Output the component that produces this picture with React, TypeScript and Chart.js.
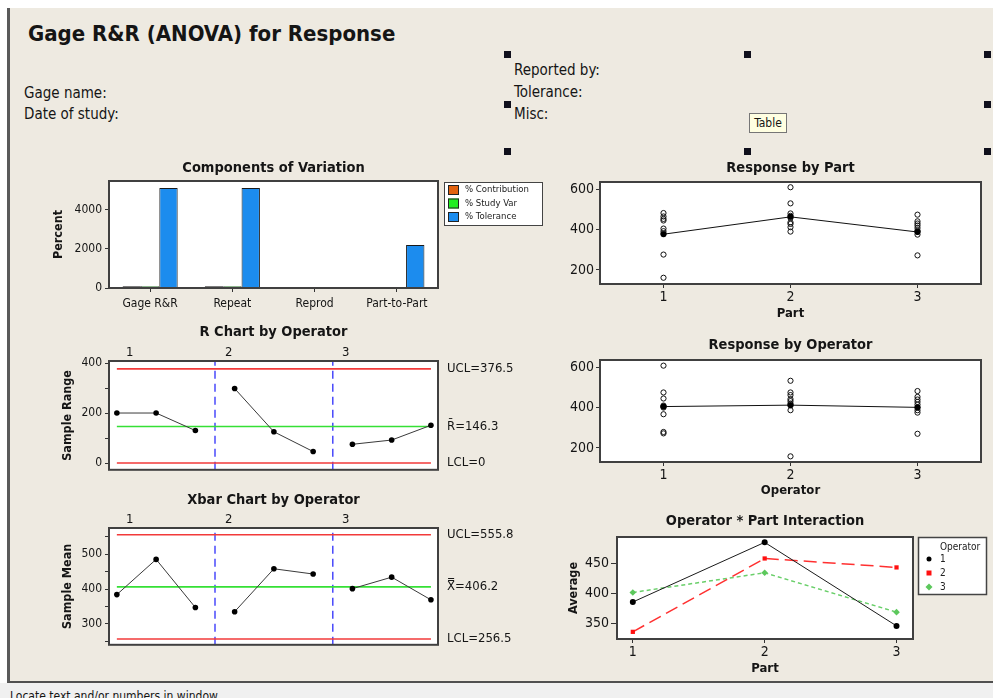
import React, { useEffect, useRef } from "react";
import { Chart, registerables } from "chart.js";

Chart.register(...registerables);

const FONT = "Tahoma, 'DejaVu Sans Condensed', 'Liberation Sans', sans-serif";
const INK = "#151515";
const BG = "#EEEAE1";
const FRAME = "#404040";
const RED = "#F23A3A";
const GREEN = "#35E035";
const BLUE = "rgba(40,40,250,0.85)";

// ---------- Components of Variation ----------
const covCategories = ["Gage R&R", "Repeat", "Reprod", "Part-to-Part"];
const covSeriesNames = ["% Contribution", "% Study Var", "% Tolerance"];
const covContribution = [84.4, 84.4, 0, 15.6];
const covStudyVar = [91.9, 91.9, 0, 39.5];
const covTolerance = [5090, 5090, 0, 2190];
const covColors = ["#E2620F", "#22EE22", "#1C8CEE"];
const covTicks = [0, 2000, 4000];

// ---------- R / Xbar charts by operator ----------
const sampleIndex = [1, 2, 3, 4, 5, 6, 7, 8, 9];
const sampleOperator = [1, 1, 1, 2, 2, 2, 3, 3, 3];
const operatorNames = ["1", "2", "3"];
const operatorBoundaries = [3.5, 6.5];
const operatorLabelX = [1.33, 3.85, 6.83];

const rangeValues = [200, 200, 130, 298, 125, 46, 75, 92, 151];
const rUCL = 376.5;
const rCenter = 146.3;
const rLCL = 0;
const rTicks = [0, 100, 200, 300, 400];
const rLabelTicks = [0, 200, 400];

const meanValues = [384, 485, 347, 335, 458, 443, 401, 434, 369];
const xUCL = 555.8;
const xCenter = 406.2;
const xLCL = 256.5;
const xbarTicks = [250, 300, 350, 400, 450, 500, 550];
const xbarLabelTicks = [300, 400, 500];

// ---------- Response by Part ----------
const partNames = ["1", "2", "3"];
const responsePart1 = [482, 465, 453, 445, 405, 392, 381, 276, 161];
const responsePart2 = [610, 530, 480, 468, 458, 436, 428, 412, 390];
const responsePart3 = [474, 441, 430, 420, 408, 395, 389, 375, 272];
const partMeans = [377, 463, 388];

// ---------- Response by Operator ----------
const responseOp1 = [608, 475, 445, 410, 405, 400, 367, 279, 272];
const responseOp2 = [533, 475, 462, 442, 432, 420, 412, 387, 158];
const responseOp3 = [482, 453, 440, 428, 415, 400, 387, 375, 270];
const operatorMeans = [405, 412, 401];

// ---------- Operator * Part interaction ----------
const interactionOp1 = [386, 486, 346];
const interactionOp2 = [336, 459, 444];
const interactionOp3 = [402, 435, 369];
const interactionTicks = [350, 400, 450];

type Rect = { x: number; y: number; w: number; h: number };
type Plot = { l: number; t: number; r: number; b: number };

function layoutPadding(c: Rect, p: Plot, yW: number, xH: number) {
  return {
    left: p.l - c.x - yW,
    top: p.t - c.y,
    right: c.x + c.w - p.r,
    bottom: c.y + c.h - p.b - xH,
  };
}

function font(size: number, bold = false) {
  return `${bold ? "bold " : ""}${size}px ${FONT}`;
}

function drawText(
  ctx: CanvasRenderingContext2D,
  s: string,
  x: number,
  y: number,
  f: string,
  align: CanvasTextAlign = "center",
  color = INK
) {
  ctx.save();
  ctx.font = f;
  ctx.fillStyle = color;
  ctx.textAlign = align;
  ctx.textBaseline = "middle";
  ctx.fillText(s, x, y);
  ctx.restore();
}

const framePlugin = {
  id: "frame",
  beforeDraw(chart: any) {
    const { ctx, chartArea: a } = chart;
    ctx.save();
    ctx.fillStyle = "#ffffff";
    ctx.fillRect(a.left, a.top, a.right - a.left, a.bottom - a.top);
    ctx.restore();
  },
  afterDraw(chart: any) {
    const { ctx, chartArea: a } = chart;
    ctx.save();
    ctx.strokeStyle = FRAME;
    ctx.lineWidth = 2;
    ctx.strokeRect(a.left, a.top, a.right - a.left, a.bottom - a.top);
    ctx.restore();
  },
};

const TITLE_SIZE = 14.5;

function titlePlugin(text: string, cy: number) {
  return {
    id: "panelTitle",
    afterDraw(chart: any) {
      const a = chart.chartArea;
      drawText(chart.ctx, text, (a.left + a.right) / 2, cy, font(TITLE_SIZE, true));
    },
  };
}

function yAxis(opts: {
  min: number;
  max: number;
  ticks: number[];
  labels: number[];
  width: number;
  size: number;
  tickLength: number;
  padding: number;
  title?: string;
  titleOffset?: number;
}) {
  return {
    type: "linear",
    min: opts.min,
    max: opts.max,
    afterBuildTicks: (s: any) => {
      s.ticks = opts.ticks.map((v) => ({ value: v }));
    },
    afterFit: (s: any) => {
      s.width = opts.width;
    },
    grid: {
      drawOnChartArea: false,
      drawTicks: true,
      tickLength: opts.tickLength,
      tickColor: "#333",
      tickWidth: 1,
    },
    border: { display: false },
    ticks: {
      font: { family: FONT, size: opts.size },
      color: INK,
      padding: opts.padding,
      callback: (v: any) => (opts.labels.includes(Number(v)) ? String(v) : ""),
    },
    title: opts.title
      ? {
          display: true,
          text: opts.title,
          color: INK,
          font: { family: FONT, size: 12.5, weight: "bold" },
          padding: { top: opts.titleOffset ?? 0, bottom: 0 },
        }
      : { display: false },
  };
}

function catAxisLinear(opts: {
  min: number;
  max: number;
  names: string[];
  height: number;
  title: string;
  size: number;
  padding: number;
}) {
  return {
    type: "linear",
    min: opts.min,
    max: opts.max,
    afterBuildTicks: (s: any) => {
      s.ticks = opts.names.map((_, i) => ({ value: i + 1 }));
    },
    afterFit: (s: any) => {
      s.height = opts.height;
    },
    grid: { drawOnChartArea: false, tickLength: 4, tickColor: "#333" },
    border: { display: false },
    ticks: {
      font: { family: FONT, size: opts.size },
      color: INK,
      padding: opts.padding,
      callback: (v: any) => opts.names[Number(v) - 1] ?? "",
    },
    title: {
      display: true,
      text: opts.title,
      color: INK,
      font: { family: FONT, size: 13, weight: "bold" },
      padding: { top: 0, bottom: 0 },
    },
  };
}

const baseOptions = {
  responsive: false,
  animation: false,
  events: [],
};

const noPlugins = {
  legend: { display: false },
  tooltip: { enabled: false },
  title: { display: false },
};

// ---------- panel configs ----------
function covConfig(c: Rect): any {
  const plot = { l: 109, t: 181, r: 438, b: 288 };
  const series = [covContribution, covStudyVar, covTolerance];
  const legend = {
    id: "covLegend",
    afterDraw(chart: any) {
      const { ctx, chartArea: a } = chart;
      const bx = a.right + 6;
      const by = a.top + 1;
      ctx.save();
      ctx.fillStyle = "#ffffff";
      ctx.fillRect(bx, by, 99, 44);
      ctx.strokeStyle = "#444";
      ctx.lineWidth = 1;
      ctx.strokeRect(bx + 0.5, by + 0.5, 98, 43);
      chart.data.datasets.forEach((ds: any, i: number) => {
        const cy = by + 8 + i * 13.5;
        ctx.fillStyle = ds.backgroundColor;
        ctx.fillRect(bx + 4, cy - 5, 11, 10);
        ctx.strokeStyle = "#222";
        ctx.strokeRect(bx + 4.5, cy - 4.5, 10, 9);
        drawText(ctx, ds.label, bx + 21, cy, font(9.5), "left", "#222");
      });
      ctx.restore();
    },
  };
  return {
    type: "bar",
    data: {
      labels: covCategories,
      datasets: covSeriesNames.map((name, i) => ({
        label: name,
        data: series[i],
        backgroundColor: covColors[i],
        borderColor: "#1a1a1a",
        borderWidth: 1,
        categoryPercentage: 0.67,
        barPercentage: 1,
      })),
    },
    options: {
      ...baseOptions,
      layout: { padding: layoutPadding(c, plot, 69, 32) },
      plugins: noPlugins,
      scales: {
        x: {
          type: "category",
          offset: true,
          afterFit: (s: any) => {
            s.height = 32;
          },
          grid: { offset: false, drawOnChartArea: false, tickLength: 4, tickColor: "#333" },
          border: { display: false },
          ticks: {
            font: { family: FONT, size: 12 },
            color: INK,
            padding: 5,
            maxRotation: 0,
            autoSkip: false,
          },
        },
        y: yAxis({
          min: 0,
          max: 5450,
          ticks: covTicks,
          labels: covTicks,
          width: 69,
          size: 12,
          tickLength: 4,
          padding: 3,
          title: "Percent",
          titleOffset: 11,
        }),
      },
    },
    plugins: [framePlugin, titlePlugin("Components of Variation", 13), legend],
  };
}

function controlConfig(
  c: Rect,
  plot: Plot,
  values: number[],
  ucl: number,
  center: number,
  lcl: number,
  centerLabel: string,
  yMin: number,
  yMax: number,
  ticks: number[],
  labels: number[],
  title: string,
  yTitle: string,
  titleY: number,
  groupY: number
): any {
  const first = sampleIndex[0];
  const last = sampleIndex[sampleIndex.length - 1];
  const opSeries = operatorNames.map((_, k) => ({
    data: sampleIndex
      .map((s, i) => ({ s, i }))
      .filter(({ i }) => sampleOperator[i] === k + 1)
      .map(({ s, i }) => ({ x: s, y: values[i] })),
    showLine: true,
    borderColor: "#3a3a3a",
    borderWidth: 1,
    pointRadius: 2.8,
    pointBackgroundColor: "#000",
    pointBorderColor: "#000",
    pointBorderWidth: 0,
  }));
  const hline = (v: number, color: string) => ({
    data: [
      { x: first, y: v },
      { x: last, y: v },
    ],
    showLine: true,
    borderColor: color,
    borderWidth: 1.6,
    pointRadius: 0,
  });
  const vlines = operatorBoundaries.map((b) => ({
    data: [
      { x: b, y: yMin },
      { x: b, y: yMax },
    ],
    showLine: true,
    borderColor: BLUE,
    borderWidth: 1.5,
    borderDash: [8, 5],
    pointRadius: 0,
  }));
  const limitLabels = [
    { text: `UCL=${ucl}`, v: ucl },
    { text: `${centerLabel}=${center}`, v: center },
    { text: `LCL=${lcl}`, v: lcl },
  ];
  const ann = {
    id: "controlText",
    afterDraw(chart: any) {
      const { ctx, chartArea: a, scales } = chart;
      limitLabels.forEach((l) =>
        drawText(ctx, l.text, a.right + 9, scales.y.getPixelForValue(l.v), font(13), "left")
      );
      operatorNames.forEach((n, i) =>
        drawText(ctx, n, scales.x.getPixelForValue(operatorLabelX[i]), groupY, font(13))
      );
      drawText(ctx, title, (a.left + a.right) / 2, titleY, font(TITLE_SIZE, true));
    },
  };
  return {
    type: "scatter",
    data: {
      datasets: [
        ...opSeries,
        hline(ucl, RED),
        hline(center, GREEN),
        hline(lcl, RED),
        ...vlines,
      ],
    },
    options: {
      ...baseOptions,
      layout: { padding: layoutPadding(c, plot, 69, 0) },
      plugins: noPlugins,
      scales: {
        x: { type: "linear", min: 0.8, max: 9.18, display: false },
        y: yAxis({
          min: yMin,
          max: yMax,
          ticks,
          labels,
          width: 69,
          size: 12,
          tickLength: 4,
          padding: 3,
          title: yTitle,
          titleOffset: 20,
        }),
      },
    },
    plugins: [framePlugin, ann],
  };
}

function responseConfig(
  c: Rect,
  plot: Plot,
  groups: number[][],
  means: number[],
  title: string,
  xTitle: string,
  titleY: number,
  xH: number
): any {
  const pts = groups.flatMap((g, i) => g.map((v) => ({ x: i + 1, y: v })));
  return {
    type: "scatter",
    data: {
      datasets: [
        {
          data: means.map((v, i) => ({ x: i + 1, y: v })),
          showLine: true,
          borderColor: "#111",
          borderWidth: 1,
          pointRadius: 3,
          pointBackgroundColor: "#000",
          pointBorderColor: "#000",
          pointBorderWidth: 0,
        },
        {
          data: pts,
          pointRadius: 2.6,
          pointBackgroundColor: "rgba(255,255,255,0)",
          pointBorderColor: "#111",
          pointBorderWidth: 1,
        },
      ],
    },
    options: {
      ...baseOptions,
      layout: { padding: layoutPadding(c, plot, 50, xH) },
      plugins: noPlugins,
      scales: {
        x: catAxisLinear({
          min: 0.5,
          max: 3.5,
          names: partNames,
          height: xH,
          title: xTitle,
          size: 14,
          padding: 1,
        }),
        y: yAxis({
          min: 130,
          max: 636,
          ticks: [200, 400, 600],
          labels: [200, 400, 600],
          width: 50,
          size: 14,
          tickLength: 4,
          padding: 2,
        }),
      },
    },
    plugins: [framePlugin, titlePlugin(title, titleY)],
  };
}

function drawMarker(ctx: CanvasRenderingContext2D, style: string, x: number, y: number, r: number, color: string) {
  ctx.save();
  ctx.fillStyle = color;
  ctx.beginPath();
  if (style === "rect") {
    ctx.rect(x - r, y - r, 2 * r, 2 * r);
  } else if (style === "rectRot") {
    ctx.moveTo(x, y - r * 1.25);
    ctx.lineTo(x + r * 1.25, y);
    ctx.lineTo(x, y + r * 1.25);
    ctx.lineTo(x - r * 1.25, y);
    ctx.closePath();
  } else {
    ctx.arc(x, y, r, 0, Math.PI * 2);
  }
  ctx.fill();
  ctx.restore();
}

function interactionConfig(c: Rect): any {
  const plot = { l: 617, t: 537, r: 913, b: 639 };
  const series = [interactionOp1, interactionOp2, interactionOp3];
  const styles = [
    { line: "#1a1a1a", marker: "#000", point: "circle", dash: [] as number[], r: 3 },
    { line: "#FF3030", marker: "#FF1010", point: "rect", dash: [13, 6], r: 3 },
    { line: "#6ACF6A", marker: "#5CC85C", point: "rectRot", dash: [4, 3], r: 3.3 },
  ];
  const legend = {
    id: "opLegend",
    afterDraw(chart: any) {
      const { ctx, chartArea: a } = chart;
      const bx = a.right + 5;
      const by = a.top;
      ctx.save();
      ctx.fillStyle = "#ffffff";
      ctx.fillRect(bx, by, 69, 58);
      ctx.strokeStyle = "#444";
      ctx.lineWidth = 1.5;
      ctx.strokeRect(bx + 0.5, by + 0.5, 68, 57);
      drawText(ctx, "Operator", bx + 22, by + 10, font(10), "left", "#222");
      operatorNames.forEach((n, i) => {
        const cy = by + 22 + i * 14;
        drawMarker(ctx, styles[i].point, bx + 11, cy, styles[i].r - 0.5, styles[i].marker);
        drawText(ctx, n, bx + 22, cy, font(10), "left", "#222");
      });
      ctx.restore();
    },
  };
  return {
    type: "scatter",
    data: {
      datasets: series.map((s, i) => ({
        label: operatorNames[i],
        data: s.map((v, j) => ({ x: j + 1, y: v })),
        showLine: true,
        borderColor: styles[i].line,
        borderWidth: i === 0 ? 1 : 1.5,
        borderDash: styles[i].dash,
        pointStyle: styles[i].point,
        pointRadius: styles[i].r,
        pointBackgroundColor: styles[i].marker,
        pointBorderColor: styles[i].marker,
        pointBorderWidth: 0,
      })),
    },
    options: {
      ...baseOptions,
      layout: { padding: layoutPadding(c, plot, 67, 37) },
      plugins: noPlugins,
      scales: {
        x: catAxisLinear({
          min: 0.88,
          max: 3.125,
          names: partNames,
          height: 37,
          title: "Part",
          size: 14,
          padding: 1,
        }),
        y: yAxis({
          min: 324,
          max: 495,
          ticks: interactionTicks,
          labels: interactionTicks,
          width: 67,
          size: 14,
          tickLength: 6,
          padding: 2,
          title: "Average",
          titleOffset: 16,
        }),
      },
    },
    plugins: [framePlugin, titlePlugin("Operator * Part Interaction", 16), legend],
  };
}

function Panel({ rect, make }: { rect: Rect; make: (r: Rect) => any }) {
  const ref = useRef<HTMLCanvasElement>(null);
  useEffect(() => {
    const chart = new Chart(ref.current as HTMLCanvasElement, make(rect));
    return () => chart.destroy();
  }, []);
  return (
    <canvas
      ref={ref}
      width={rect.w}
      height={rect.h}
      style={{ position: "absolute", left: rect.x, top: rect.y, width: rect.w, height: rect.h }}
    />
  );
}

const covRect = { x: 40, y: 155, w: 510, h: 165 };
const rRect = { x: 40, y: 320, w: 480, h: 160 };
const xbarRect = { x: 40, y: 485, w: 480, h: 170 };
const partRect = { x: 550, y: 155, w: 443, h: 170 };
const opRect = { x: 550, y: 330, w: 443, h: 170 };
const interRect = { x: 550, y: 505, w: 443, h: 180 };

const handles = [
  [504, 51],
  [744, 51],
  [984, 51],
  [504, 101],
  [984, 101],
  [504, 148],
  [744, 148],
  [984, 148],
];

export default function App() {
  const txt = (s: string, left: number, top: number, size: number, bold = false) => (
    <div
      style={{
        position: "absolute",
        left,
        top,
        fontFamily: FONT,
        fontSize: size,
        fontWeight: bold ? "bold" : "normal",
        lineHeight: `${Math.round(size * 1.2)}px`,
        color: INK,
        whiteSpace: "nowrap",
      }}
    >
      {s}
    </div>
  );
  return (
    <div style={{ position: "absolute", left: 0, top: 0, width: 993, height: 698, overflow: "hidden", background: "#fff" }}>
      <div
        style={{
          position: "absolute",
          left: 7,
          top: 8,
          width: 986,
          height: 675,
          boxSizing: "border-box",
          background: BG,
          borderLeft: "3px solid #5a5a5a",
          borderBottom: "2px solid #505050",
        }}
      />
      {txt("Gage R&R (ANOVA) for Response", 28, 21, 22, true)}
      {txt("Gage name:", 24, 84, 15)}
      {txt("Date of study:", 24, 105, 15)}
      {txt("Reported by:", 514, 61, 15)}
      {txt("Tolerance:", 514, 83, 15)}
      {txt("Misc:", 514, 105, 15)}
      {handles.map(([l, t], i) => (
        <div key={i} style={{ position: "absolute", left: l, top: t, width: 7, height: 7, background: "#10101c" }} />
      ))}
      <div
        style={{
          position: "absolute",
          left: 749,
          top: 113,
          width: 38,
          height: 20,
          boxSizing: "border-box",
          background: "#FFFFE1",
          border: "1px solid #767676",
          fontFamily: FONT,
          fontSize: 12,
          lineHeight: "18px",
          textAlign: "center",
          color: INK,
        }}
      >
        Table
      </div>
      <Panel rect={covRect} make={covConfig} />
      <Panel
        rect={rRect}
        make={(r) =>
          controlConfig(r, { l: 109, t: 361, r: 438, b: 472 }, rangeValues, rUCL, rCenter, rLCL, "R\u0304", -27, 408, rTicks, rLabelTicks, "R Chart by Operator", "Sample Range", 12, 33)
        }
      />
      <Panel
        rect={xbarRect}
        make={(r) =>
          controlConfig(r, { l: 109, t: 528, r: 438, b: 648 }, meanValues, xUCL, xCenter, xLCL, "X\u033F", 240, 575, xbarTicks, xbarLabelTicks, "Xbar Chart by Operator", "Sample Mean", 15, 35)
        }
      />
      <Panel
        rect={partRect}
        make={(r) =>
          responseConfig(r, { l: 600, t: 182, r: 981, b: 284 }, [responsePart1, responsePart2, responsePart3], partMeans, "Response by Part", "Part", 13, 37)
        }
      />
      <Panel
        rect={opRect}
        make={(r) =>
          responseConfig(r, { l: 600, t: 360, r: 981, b: 462 }, [responseOp1, responseOp2, responseOp3], operatorMeans, "Response by Operator", "Operator", 15, 36)
        }
      />
      <Panel rect={interRect} make={interactionConfig} />
      <div style={{ position: "absolute", left: 0, top: 683, width: 993, height: 15, background: "#F0F0F0" }} />
      {txt("Locate text and/or numbers in window", 10, 689, 12)}
    </div>
  );
}
